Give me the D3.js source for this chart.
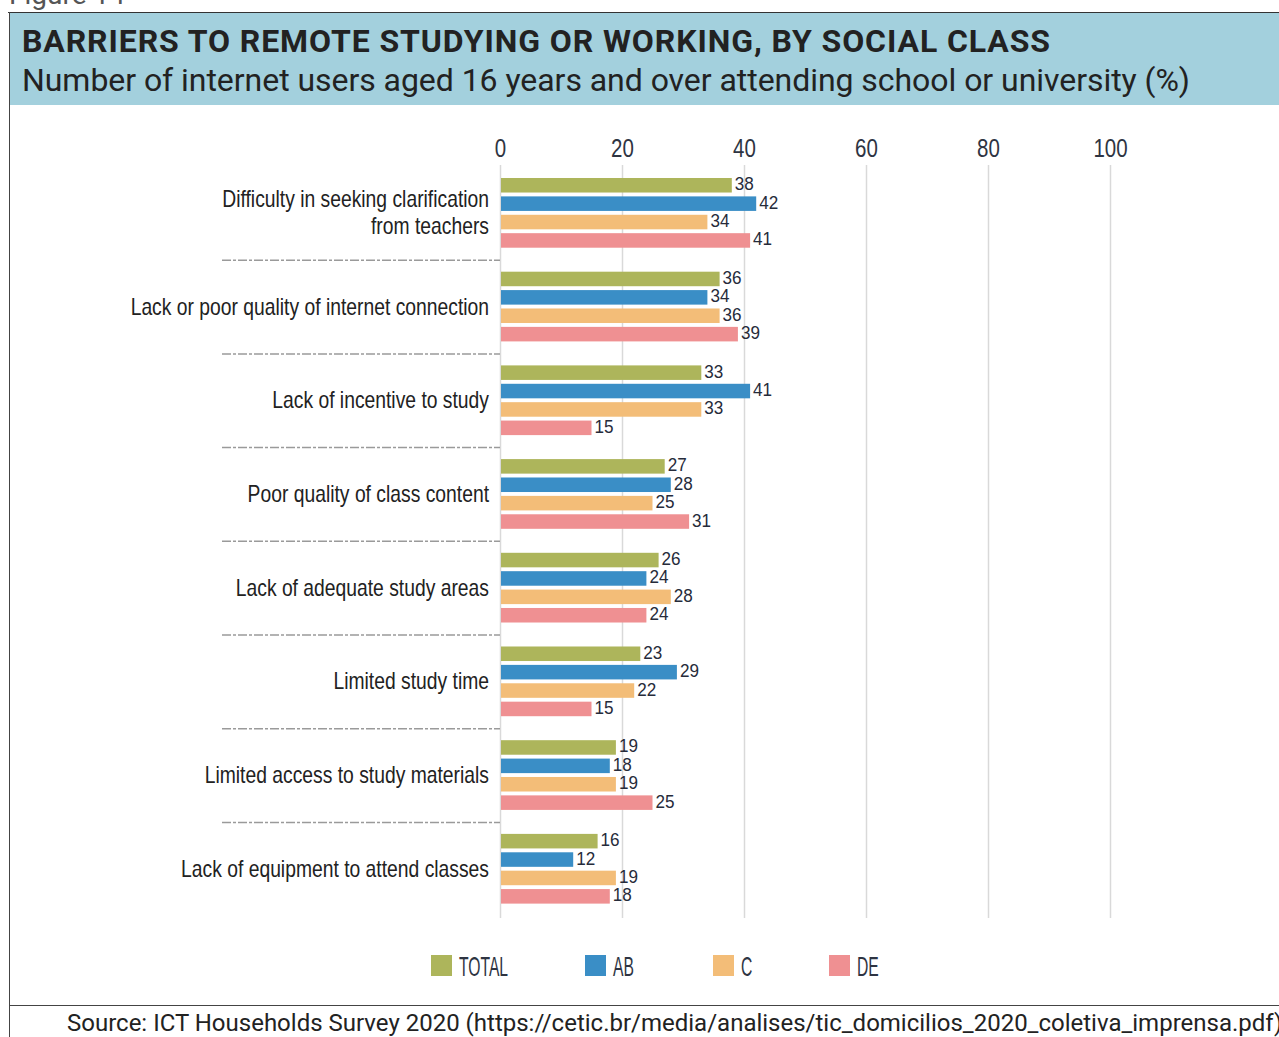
<!DOCTYPE html>
<html>
<head>
<meta charset="utf-8">
<script src="https://cdn.jsdelivr.net/npm/d3@7"></script>
<style>
  body { margin: 0; background: #fff; }
  svg { display: block; }
  .narrow { font-family: "Liberation Sans", Arial, sans-serif; }
</style>
</head>
<body>
<svg id="chart" width="1279" height="1037"></svg>
<script>
// Barriers to remote studying or working, by social class (%)
const categories = [
  "Difficulty in seeking clarification\nfrom teachers",
  "Lack or poor quality of internet connection",
  "Lack of incentive to study",
  "Poor quality of class content",
  "Lack of adequate study areas",
  "Limited study time",
  "Limited access to study materials",
  "Lack of equipment to attend classes"
];
const seriesNames = ["TOTAL", "AB", "C", "DE"];
const totalValues = [38, 36, 33, 27, 26, 23, 19, 16];
const abValues    = [42, 34, 41, 28, 24, 29, 18, 12];
const cValues     = [34, 36, 33, 25, 28, 22, 19, 19];
const deValues    = [41, 39, 15, 31, 24, 15, 25, 18];
const tickValues  = [0, 20, 40, 60, 80, 100];
const seriesColors = ["#adb55b", "#3a8ec6", "#f3bd78", "#ef9092"];

const seriesValues = [totalValues, abValues, cValues, deValues];
const rows = categories.map((cat, i) => ({
  cat,
  values: seriesNames.map((s, j) => ({ series: s, value: seriesValues[j][i] }))
}));

const svg = d3.select("#chart");
const W = 1279, H = 1037;

// Figure number, cut by the top edge
svg.append("text")
  .attr("x", 9).attr("y", 4)
  .attr("font-family", "Roboto, sans-serif")
  .attr("font-size", 28)
  .attr("fill", "#555")
  .text("Figure 14");

// Header band and frame
svg.append("rect")
  .attr("x", 9).attr("y", 12).attr("width", W - 9).attr("height", 93)
  .attr("fill", "#a3d0dd");
svg.append("line")
  .attr("x1", 8).attr("x2", W).attr("y1", 12.5).attr("y2", 12.5)
  .attr("stroke", "#333").attr("stroke-width", 1.2);
svg.append("line")
  .attr("x1", 9.5).attr("x2", 9.5).attr("y1", 12).attr("y2", H)
  .attr("stroke", "#444").attr("stroke-width", 1);
svg.append("line")
  .attr("x1", 9).attr("x2", W).attr("y1", 1005.5).attr("y2", 1005.5)
  .attr("stroke", "#444").attr("stroke-width", 1);

svg.append("text")
  .attr("x", 22).attr("y", 52)
  .attr("font-family", "Roboto, sans-serif")
  .attr("font-weight", 700)
  .attr("font-size", 32)
  .attr("fill", "#222")
  .attr("textLength", 1028)
  .attr("lengthAdjust", "spacing")
  .text("BARRIERS TO REMOTE STUDYING OR WORKING, BY SOCIAL CLASS");
svg.append("text")
  .attr("x", 22).attr("y", 91)
  .attr("font-family", "Roboto, sans-serif")
  .attr("font-size", 32)
  .attr("fill", "#222")
  .attr("textLength", 1168)
  .attr("lengthAdjust", "spacing")
  .text("Number of internet users aged 16 years and over attending school or university (%)");

// Scales
const x = d3.scaleLinear().domain([0, 100]).range([500, 1110]);
const y0 = d3.scaleBand().domain(categories).range([166, 915.6]);
const y1 = d3.scaleBand().domain(seriesNames).range([0, y0.bandwidth()])
  .paddingInner(0.21).paddingOuter(0.652);
const color = d3.scaleOrdinal().domain(seriesNames).range(seriesColors);

// Top axis with gridlines running down the plot
const gridTop = 165, gridBottom = 918;
const axis = svg.append("g")
  .attr("transform", `translate(0,${gridTop})`)
  .call(d3.axisTop(x).tickValues(tickValues).tickSizeInner(-(gridBottom - gridTop)).tickSizeOuter(0).tickPadding(9));
axis.select(".domain").remove();
axis.selectAll(".tick line").attr("stroke", "#d9d9d9").attr("stroke-width", 1.5);
axis.selectAll(".tick text")
  .attr("class", "narrow")
  .attr("font-size", 25)
  .attr("fill", "#2e3442")
  .attr("transform", "translate(0,-8) scale(0.82,1)")
  .attr("y", 0);

// Dash-dot separators between categories
svg.append("g").selectAll("line")
  .data(categories.slice(1))
  .join("line")
  .attr("x1", 222).attr("x2", 500)
  .attr("y1", d => y0(d) + 0.5).attr("y2", d => y0(d) + 0.5)
  .attr("stroke", "#9a9a9a").attr("stroke-width", 1.5)
  .attr("stroke-dasharray", "9,2,3,2");

// Category labels (condensed)
const labels = svg.append("g").selectAll("text")
  .data(categories)
  .join("text")
  .attr("class", "narrow")
  .attr("text-anchor", "end")
  .attr("font-size", 23)
  .attr("fill", "#222")
  .attr("transform", d => `translate(489,${y0(d) + y0.bandwidth() / 2}) scale(0.84,1)`);
labels.each(function (d) {
  const lines = d.split("\n");
  const t = d3.select(this);
  lines.forEach((ln, i) => {
    t.append("tspan")
      .attr("x", 0)
      .attr("dy", i === 0 ? `${0.35 - (lines.length - 1) * 0.6}em` : "1.15em")
      .text(ln);
  });
});

// Bars
const groups = svg.append("g").selectAll("g")
  .data(rows)
  .join("g")
  .attr("transform", d => `translate(0,${y0(d.cat)})`);

groups.selectAll("rect")
  .data(d => d.values)
  .join("rect")
  .attr("x", x(0) + 1)
  .attr("y", d => y1(d.series))
  .attr("width", d => x(d.value) - x(0) - 1)
  .attr("height", y1.bandwidth())
  .attr("fill", d => color(d.series));

groups.selectAll("text")
  .data(d => d.values)
  .join("text")
  .attr("class", "narrow")
  .attr("font-size", 19)
  .attr("fill", "#262b3a")
  .attr("transform", d => `translate(${x(d.value) + 3},${y1(d.series) + y1.bandwidth() / 2 + 5}) scale(0.9,1)`)
  .text(d => d.value);

// Legend
const legendX = [431, 585, 713, 829];
const legend = svg.append("g").selectAll("g")
  .data(seriesNames)
  .join("g")
  .attr("transform", (d, i) => `translate(${legendX[i]},955)`);
legend.append("rect")
  .attr("width", 21).attr("height", 21)
  .attr("fill", d => color(d));
legend.append("text")
  .attr("class", "narrow")
  .attr("font-size", 28)
  .attr("fill", "#2e3442")
  .attr("transform", "translate(28,20.5) scale(0.56,1)")
  .text(d => d);

// Source line
svg.append("text")
  .attr("x", 67).attr("y", 1031)
  .attr("font-family", "Roboto, sans-serif")
  .attr("font-size", 24)
  .attr("fill", "#222")
  .text("Source: ICT Households Survey 2020 (https://cetic.br/media/analises/tic_domicilios_2020_coletiva_imprensa.pdf)");
</script>
</body>
</html>
